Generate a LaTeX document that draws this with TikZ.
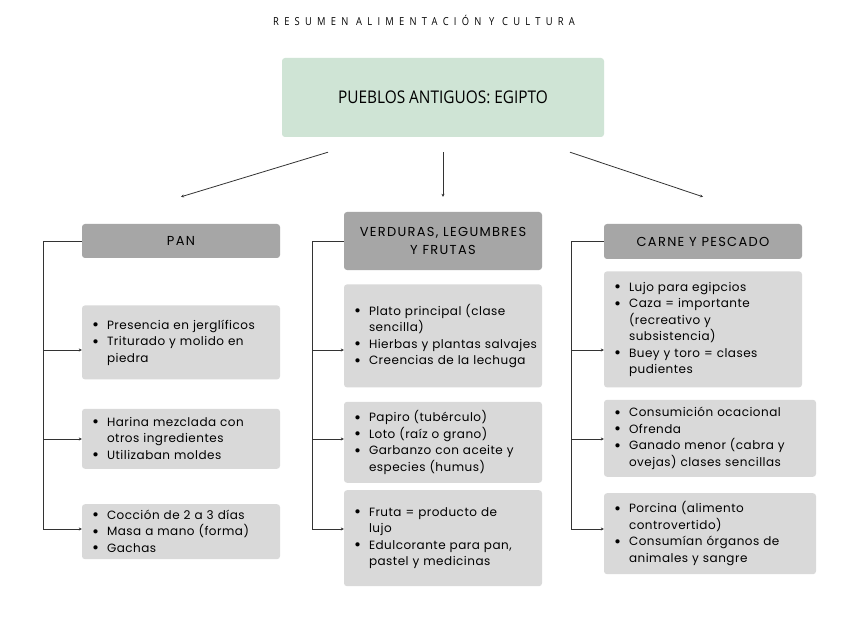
\documentclass[tikz,border=0pt]{standalone}
\usepackage{fontspec}
\setmainfont{Poppins}
\newfontfamily\titlefont[LetterSpace=48,FakeStretch=0.85]{Open Sans}
\newfontfamily\condfont[FakeStretch=0.88]{Open Sans}
\newfontfamily\headfont[LetterSpace=10]{Poppins}
\newfontfamily\bodyfont[LetterSpace=4]{Poppins}
\usetikzlibrary{positioning,arrows.meta}
\definecolor{sage}{RGB}{207,228,213}
\definecolor{headgray}{RGB}{166,166,166}
\definecolor{boxgray}{RGB}{217,217,217}
\definecolor{linegray}{RGB}{51,51,51}
\newcommand{\bul}{\hspace*{9pt}\makebox[15pt][l]{\raisebox{-1.5pt}{\fontsize{17}{0}\selectfont\textbullet}}}
\newcommand{\ind}{\hspace*{24pt}}
\tikzstyle{topic} = [fill=sage, rectangle, rounded corners=3pt,
    minimum width=322pt, minimum height=79pt, font=\condfont\fontsize{17.5}{20}\selectfont]
\tikzstyle{head} = [fill=headgray, rectangle, rounded corners=3pt,
    minimum width=198pt, align=center, font=\headfont\fontsize{13}{18.5}\selectfont]
\tikzstyle{body} = [fill=boxgray, rectangle, rounded corners=3pt, inner xsep=1pt,
    text width=196pt, align=left, font=\bodyfont\fontsize{12}{16.5}\selectfont]
\tikzstyle{wide} = [text width=210pt, anchor=north west]
\tikzstyle{link} = [draw=linegray, line width=0.8pt, -{Stealth[length=3pt,width=3pt]}]

\begin{document}
\begin{tikzpicture}[x=1pt, y=-1pt]
    \path [fill=white, use as bounding box] (0,0) rectangle (848,636);
    \node [font=\titlefont\fontsize{11}{11}\selectfont] (titulo) at (424,20) {RESUMEN ALIMENTACIÓN Y CULTURA};
    \node [topic] (egipto) at (443,97.5) {PUEBLOS ANTIGUOS: EGIPTO};
    % headers
    \node [head, minimum height=34pt] (pan) at (181,241) {PAN};
    \node [head, minimum height=58pt] (verd) at (443,241) {VERDURAS, LEGUMBRES\\Y FRUTAS};
    \node [head, minimum height=35pt] (carne) at (703,241.5) {CARNE Y PESCADO};
    % pan
    \node [body, minimum height=74pt, below=47pt of pan] (pan1) {\bul Presencia en jerglíficos\\ \bul Triturado y molido en\\ \ind piedra};
    \node [body, minimum height=60pt, below=29pt of pan1] (pan2) {\bul Harina mezclada con\\ \ind otros ingredientes\\ \bul Utilizaban moldes};
    \node [body, minimum height=55pt, below=35pt of pan2] (pan3) {\bul Cocción de 2 a 3 días\\ \bul Masa a mano (forma)\\ \bul Gachas};
    % verduras
    \node [body, minimum height=103pt, below=14pt of verd] (verd1) {\bul Plato principal (clase\\ \ind sencilla)\\ \bul Hierbas y plantas salvajes\\ \bul Creencias de la lechuga};
    \node [body, minimum height=81pt, below=14pt of verd1] (verd2) {\bul Papiro (tubérculo)\\ \bul Loto (raíz o grano)\\ \bul Garbanzo con aceite y\\ \ind especies (humus)};
    \node [body, minimum height=96pt, below=7pt of verd2] (verd3) {\bul Fruta = producto de\\ \ind lujo\\ \bul Edulcorante para pan,\\ \ind pastel y medicinas};
    % carne
    \node [body, minimum height=116pt, below=12pt of carne] (carne1) {\bul Lujo para egipcios\\ \bul Caza = importante\\ \ind (recreativo y\\ \ind subsistencia)\\ \bul Buey y toro = clases\\ \ind pudientes};
    \node [body, wide, minimum height=77pt, below=12pt of carne1.south west, anchor=north west] (carne2) {\bul Consumición ocacional\\ \bul Ofrenda\\ \bul Ganado menor (cabra y\\ \ind ovejas) clases sencillas};
    \node [body, wide, minimum height=81pt, below=16pt of carne2.south west, anchor=north west] (carne3) {\bul Porcina (alimento\\ \ind controvertido)\\ \bul Consumían órganos de\\ \ind animales y sangre};
    % arrows from the top
    \draw [link] ([xshift=-115pt,yshift=-15pt]egipto.south) -- ([yshift=27pt]pan.north);
    \draw [link] ([yshift=-15pt]egipto.south) -- ([yshift=15pt]verd.north);
    \draw [link] ([xshift=127pt,yshift=-15pt]egipto.south) -- ([yshift=27pt]carne.north);
    % brackets
    \coordinate (r1) at (0,350);
    \coordinate (r2) at (0,439);
    \coordinate (r3) at (0,529);
    \coordinate [left=38pt of pan.west] (pbar);
    \coordinate [left=31.5pt of verd.west] (vbar);
    \coordinate [left=32pt of carne.west] (cbar);
    \draw [link] (pan.west) -- (pbar) |- (pan3.west |- r3);
    \draw [link] (pbar |- r1) -- (pan1.west |- r1);
    \draw [link] (pbar |- r2) -- (pan2.west |- r2);
    \draw [link] (verd.west |- pan.west) -- (vbar |- pan.west) |- (verd3.west |- r3);
    \draw [link] (vbar |- r1) -- (verd1.west |- r1);
    \draw [link] (vbar |- r2) -- (verd2.west |- r2);
    \draw [link] (carne.west) -- (cbar) |- (carne3.west |- r3);
    \draw [link] (cbar |- r1) -- (carne1.west |- r1);
    \draw [link] (cbar |- r2) -- (carne2.west |- r2);
\end{tikzpicture}
\end{document}
